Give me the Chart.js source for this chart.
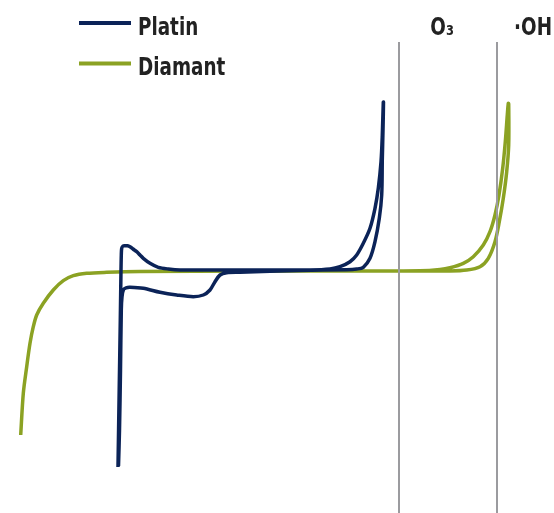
<!DOCTYPE html>
<html>
<head>
<meta charset="utf-8">
<script src="https://cdn.jsdelivr.net/npm/chart.js@4.4.1/dist/chart.umd.min.js"></script>
<style>
    html, body { margin: 0; padding: 0; background: #ffffff; }
    #chartCV { display: block; }
</style>
</head>
<body>
<canvas id="chartCV" width="554" height="513"></canvas>
<script>
// potential (x) / current (y), arbitrary units
var platinX = [118, 119.2, 120.3, 121, 121.3, 121.7, 123, 125, 127.5, 130, 133, 136.7, 140, 143.3, 150, 158.3, 168.3, 180,
               220, 270, 310, 330, 340, 350, 356.7, 363.3, 370, 375, 378.3, 381, 382.3, 383.3,
               383.5, 383, 382.3, 381.7, 379.3, 375, 370, 363.3, 356.7, 346.7, 300,
               240, 226.7, 220, 215, 210, 203.3, 193.3, 176.7, 160, 143.3, 130, 126, 123.5, 122, 121.3, 120.5, 119.5, 118.5];
var platinY = [-197, -120, -50, 0, 15, 21.7, 24, 24.3, 24.3, 23.3, 21, 18.3, 15, 11.7, 6.7, 2.7, 1, 0,
               0, 0, 0, 1, 3.3, 8.3, 15, 26.7, 41.7, 61.7, 81.7, 108, 135, 168,
               168, 140, 110, 75, 51.7, 28.3, 11.7, 2.7, 1, 0.3, -0.5,
               -2.3, -2.7, -5, -11.7, -20, -25, -26.7, -25, -22.3, -18.3, -17.3, -17.8, -19.5, -26.7, -40, -100, -160, -196];

var diamantX = [20.7, 23.3, 26.7, 30, 33.3, 36.7, 43.3, 53.3, 63.3, 73.3, 86.7, 106.7, 140, 250, 350, 420,
                440, 450, 463.3, 473.3, 483.3, 490, 495, 499, 502.7, 505.3, 507.3, 508.3,
                508.7, 508.7, 506.7, 503.3, 499.3, 495, 488.3, 480, 466.7, 450, 420];
var diamantY = [-165, -123.3, -96.7, -73.3, -56.7, -45, -33.3, -20, -10.7, -5.7, -3.3, -2.3, -1.5, -1, -1, -0.8,
                0.5, 2.3, 6.7, 13.3, 25, 38.3, 55, 75, 101.7, 128.3, 155, 166.7,
                166, 125, 98.3, 71.7, 48.3, 28.3, 11.7, 3.3, 0, -1, -1];

var seriesNames = ['Platin', 'Diamant'];
var seriesColors = ['#0b2358', '#8ba223'];

var markerX = [399, 497];
var markerLabels = ['O₃', '·OH'];
var markerTop = 228;
var markerBottom = -243;

function toPoints(xs, ys) {
    var pts = [];
    for (var i = 0; i < xs.length; i++) {
        pts.push({ x: xs[i], y: ys[i] });
    }
    return pts;
}

var datasets = [];
markerX.forEach(function (mx) {
    datasets.push({
        label: '',
        isMarker: true,
        data: [{ x: mx, y: markerTop }, { x: mx, y: markerBottom }],
        borderColor: '#9b9b9f',
        borderWidth: 2,
        pointRadius: 0,
        tension: 0
    });
});
datasets.push({
    label: seriesNames[0],
    data: toPoints(platinX, platinY),
    borderColor: seriesColors[0],
    borderWidth: 3.5,
    pointRadius: 0,
    tension: 0.3
});
datasets.push({
    label: seriesNames[1],
    data: toPoints(diamantX, diamantY),
    borderColor: seriesColors[1],
    borderWidth: 3.5,
    pointRadius: 0,
    tension: 0.3
});

var labelFont = "bold 24px 'DejaVu Sans Condensed', 'DejaVu Sans', sans-serif";
var squeeze = 0.85; // narrow the text like the original condensed face

function narrowText(ctx, text, x, y) {
    ctx.save();
    ctx.translate(x, y);
    ctx.scale(squeeze, 1);
    ctx.fillText(text, 0, 0);
    ctx.restore();
}

// legend + marker labels drawn by hand
var annotatePlugin = {
    id: 'annotate',
    afterDraw: function (chart) {
        var ctx = chart.ctx;
        var xs = chart.scales.x;
        ctx.save();
        ctx.font = labelFont;
        ctx.fillStyle = '#222222';
        ctx.textBaseline = 'alphabetic';

        // legend
        var row = 0;
        chart.data.datasets.forEach(function (ds) {
            if (ds.isMarker) return;
            var yLine = 23 + row * 40.5;
            ctx.strokeStyle = ds.borderColor;
            ctx.lineWidth = 4;
            ctx.beginPath();
            ctx.moveTo(79, yLine);
            ctx.lineTo(131, yLine);
            ctx.stroke();
            ctx.textAlign = 'left';
            narrowText(ctx, ds.label, 138, yLine + 11.5);
            row++;
        });

        // O3 / OH labels
        ctx.textAlign = 'right';
        markerX.forEach(function (mx, i) {
            var px = xs.getPixelForValue(mx);
            narrowText(ctx, markerLabels[i], px + 55, 35);
        });
        ctx.restore();
    }
};

var chartCV = new Chart(document.getElementById('chartCV').getContext('2d'), {
    type: 'line',
    data: { datasets: datasets },
    options: {
        responsive: false,
        animation: false,
        layout: { padding: 0 },
        plugins: {
            legend: { display: false },
            tooltip: { enabled: false }
        },
        scales: {
            x: { type: 'linear', min: 0, max: 554, display: false },
            y: { type: 'linear', min: -243, max: 270, display: false }
        }
    },
    plugins: [annotatePlugin]
});
</script>
</body>
</html>
